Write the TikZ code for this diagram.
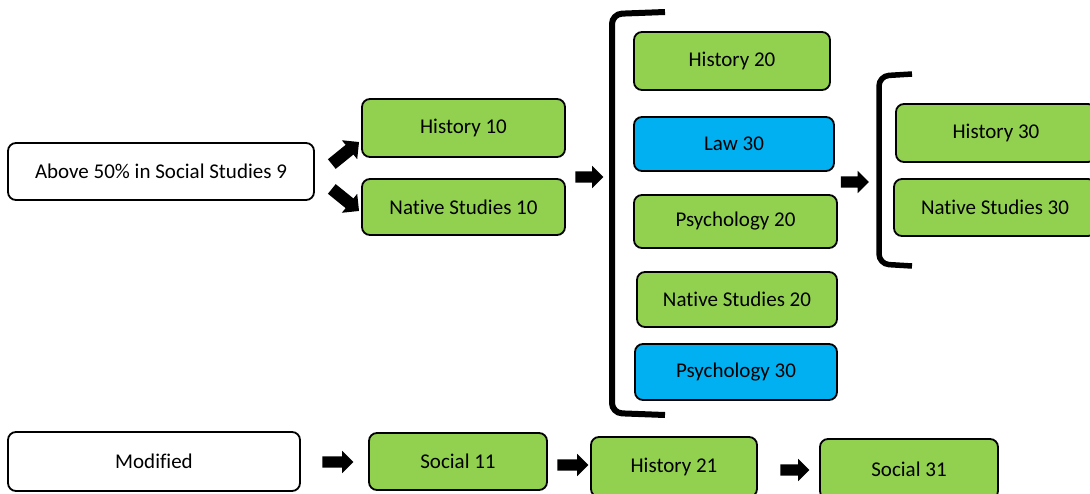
\documentclass[tikz,border=0pt]{standalone}
\usepackage{fontspec}
\setmainfont{Carlito}[Ligatures=NoCommon]
\usetikzlibrary{shapes.arrows}
\definecolor{cgreen}{HTML}{92D050}
\definecolor{cblue}{HTML}{00B0F0}
\tikzset{
  box/.style={draw=black, line width=1.8pt, rounded corners=8pt, font=\fontsize{21}{24}\selectfont, inner sep=2pt},
  greenbox/.style={box, fill=cgreen},
  bluebox/.style={box, fill=cblue},
  whitebox/.style={box, fill=white},
  blockarrow/.style={single arrow, fill=black, draw=none, inner sep=5.5pt, single arrow head extend=5.5pt, single arrow head indent=0pt, minimum height=28pt},
  bracket/.style={line width=6pt, rounded corners=10pt}
}
\begin{document}
\begin{tikzpicture}[x=1pt,y=-1pt]
\useasboundingbox (0,0) rectangle (1090,493);
\clip (0,0) rectangle (1090,493);
% top flow
\node[whitebox, minimum width=306pt, minimum height=57pt] (above) at (161,171.5) {Above 50\% in Social Studies 9};
\node[greenbox, minimum width=203pt, minimum height=58pt] (h10) at (463.5,128) {History 10};
\node[greenbox, minimum width=203pt, minimum height=56pt] (ns10) at (463.5,207) {Native Studies 10};
\node[blockarrow, rotate=39, minimum height=35pt, inner sep=6pt, single arrow head extend=6pt] (a1) at (343,155) {};
\node[blockarrow, rotate=-39, minimum height=35pt, inner sep=6pt, single arrow head extend=6pt] (a2) at (343,198) {};
\node[blockarrow] (a3) at (586.5,177) {};
% middle column
\draw[bracket] (665,12) -- (612,14) -- (612,413) -- (665,415);
\node[greenbox, minimum width=196pt, minimum height=58pt] (h20) at (732,61) {History 20};
\node[bluebox, minimum width=200pt, minimum height=54pt] (law30) at (734,144) {Law 30};
\node[greenbox, minimum width=203pt, minimum height=53pt] (p20) at (735.5,221.5) {Psychology 20};
\node[greenbox, minimum width=200pt, minimum height=55pt] (ns20) at (737,299.5) {Native Studies 20};
\node[bluebox, minimum width=202pt, minimum height=56pt] (p30) at (736,372) {Psychology 30};
\node[blockarrow] (a4) at (852,182) {};
% right column
\draw[bracket, line width=5.5pt] (912,74) -- (879,76) -- (879,264) -- (912,266);
\node[greenbox, minimum width=200pt, minimum height=58pt] (h30) at (996,133) {History 30};
\node[greenbox, minimum width=202pt, minimum height=57pt] (ns30) at (995,207.5) {Native Studies 30};
% bottom row
\node[whitebox, minimum width=292pt, minimum height=59pt] (mod) at (154,461.5) {Modified};
\node[blockarrow, minimum height=31pt] (b1) at (335,462) {};
\node[greenbox, minimum width=178pt, minimum height=57pt] (s11) at (458,461.5) {Social 11};
\node[blockarrow, minimum height=31pt] (b2) at (570,465) {};
\node[greenbox, minimum width=166pt, minimum height=60pt] (h21) at (674,467) {History 21};
\node[blockarrow, minimum height=29pt] (b3) at (792,470) {};
\node[greenbox, minimum width=178pt, minimum height=60pt] (s31) at (909,469) {Social 31};
\end{tikzpicture}
\end{document}
